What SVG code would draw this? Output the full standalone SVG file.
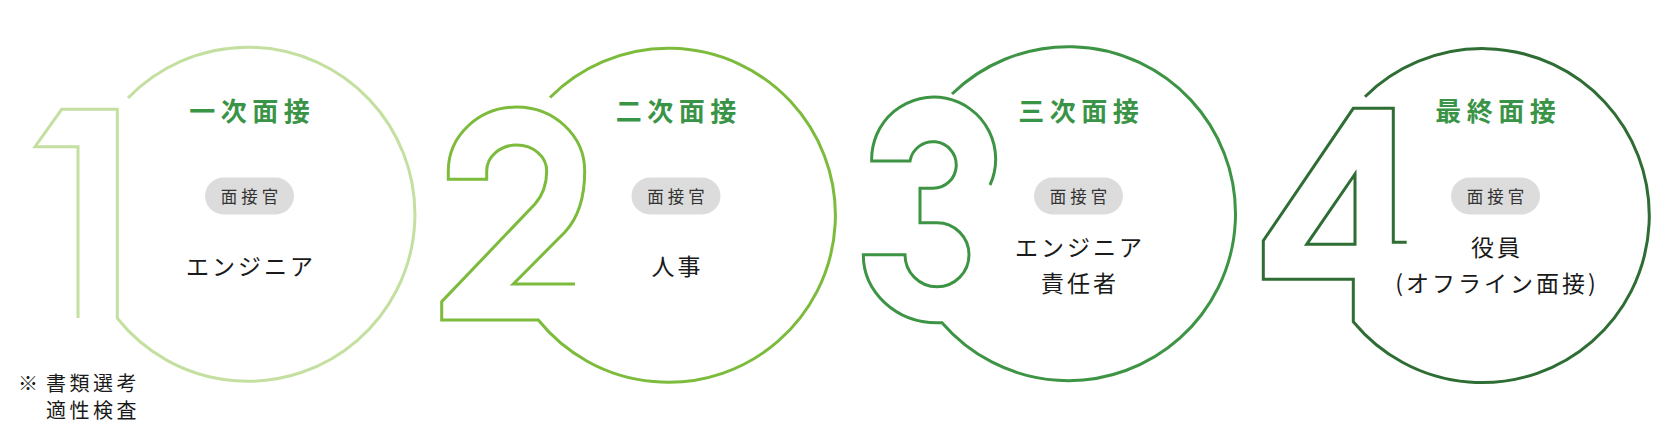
<svg xmlns="http://www.w3.org/2000/svg" width="1669" height="433" viewBox="0 0 1669 433">
<style>
.ol{fill:none;stroke-width:3;stroke-linejoin:miter;stroke-linecap:butt}
.t{font-family:"Noto Sans CJK JP","Noto Sans",sans-serif;font-size:26px;font-weight:700;fill:#3a9447;letter-spacing:5.5px;text-anchor:middle}
.pill{fill:#dcdcdc}
.pt{font-family:"Noto Sans CJK JP","Noto Sans",sans-serif;font-size:16.5px;fill:#333;letter-spacing:4px;text-anchor:middle}
.b{font-family:"Noto Sans CJK JP","Noto Sans",sans-serif;font-size:23px;fill:#1a1a1a;letter-spacing:3px;text-anchor:middle}
.n{font-family:"Noto Sans CJK JP","Noto Sans",sans-serif;font-size:20px;fill:#1a1a1a;letter-spacing:3.5px}
</style>
<rect width="1669" height="433" fill="#fff"/>
<g id="connectors"/>
<g id="step1">
<path class="ol" stroke="#c4e0a0" d="M78,318 V146.7 H35 L61.7,109.3 H117.3 V318.3 A167,167 0 1 0 128,98"/>
<text class="t" x="252.25" y="121">一次面接</text>
<rect class="pill" x="205" y="177.5" width="89" height="37" rx="18.5"/>
<text class="pt" x="251.5" y="203">面接官</text>
<text class="b" x="251" y="275">エンジニア</text>
</g>
<g id="step2">
<path class="ol" stroke="#7cbb3c" d="M575,284 H513.3 L565,232 C578,218 584.7,196 584.7,171 A68.2,64 0 0 0 448.3,171 V179.3 H486.7 V171 A30,26 0 0 1 546.7,171 C546.7,186 542,196 535,204 L441.7,301.7 V320 H538.3 A167,167 0 1 0 550,97.5"/>
<text class="t" x="678.75" y="121">二次面接</text>
<rect class="pill" x="631.5" y="177.5" width="89" height="37" rx="18.5"/>
<text class="pt" x="678" y="203">面接官</text>
<text class="b" x="677.5" y="275">人事</text>
</g>
<g id="step3">
<path class="ol" stroke="#3d9444" d="M990,185 A62,62 0 1 0 871.7,161 H910 A23.3,23.3 0 1 1 933,188.3 H920 V222.7 H937 A32,32 0 1 1 905,254.7 H863.3 A73.7,68 0 0 0 937,322.7 H942 A167,167 0 1 0 952,94"/>
<text class="t" x="1081.25" y="121">三次面接</text>
<rect class="pill" x="1034" y="177.5" width="89" height="37" rx="18.5"/>
<text class="pt" x="1080.5" y="203">面接官</text>
<text class="b" x="1080" y="256">エンジニア</text>
<text class="b" x="1080" y="292">責任者</text>
</g>
<g id="step4">
<path class="ol" stroke="#2e6d33" d="M1406.7,242.3 H1393.3 V108.3 H1353.3 L1263.3,240.7 V279.3 H1353.3 V321.7 A167,167 0 1 0 1365,96.7"/>
<path class="ol" stroke="#2e6d33" d="M1355,174 V244.3 H1306.7 Z"/>
<text class="t" x="1498.25" y="121">最終面接</text>
<rect class="pill" x="1451" y="177.5" width="89" height="37" rx="18.5"/>
<text class="pt" x="1497.5" y="203">面接官</text>
<text class="b" x="1497" y="256">役員</text>
<text class="b" x="1497" y="292">(オフライン面接)</text>
</g>
<g id="note">
<text class="n" x="18" y="391">※<tspan x="46">書類選考</tspan></text>
<text class="n" x="46" y="418">適性検査</text>
</g>
</svg>
